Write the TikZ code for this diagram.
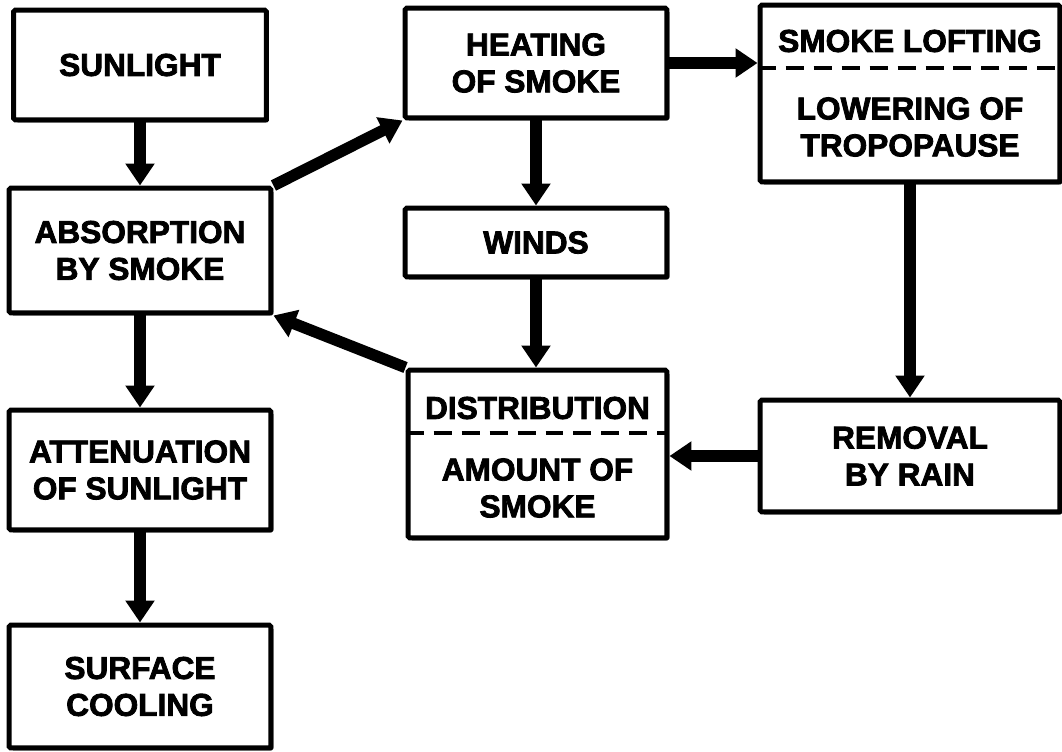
\documentclass[tikz,border=0pt]{standalone}
\usepackage{fontspec}
\setmainfont{Liberation Sans}[BoldFeatures={FakeBold=2.5}]
\usetikzlibrary{arrows.meta}
\usetikzlibrary{shadows}
\tikzset{box/.style={draw, line width=0.1cm, fill=white, rounded corners=1pt,
  drop shadow={shadow xshift=0.05cm, shadow yshift=-0.05cm, fill=black, opacity=1},
  font=\bfseries\fontsize{18}{21}\selectfont, align=center, inner sep=0pt}}
\tikzset{flow/.style={line width=0.23cm, -{Triangle[length=0.44cm, width=0.56cm]}}}
\tikzset{cut/.style={line width=0.08cm, dash pattern=on 0.36cm off 0.2cm}}
\tikzset{boxtext/.style={font=\bfseries\fontsize{18}{21}\selectfont, align=center}}

\begin{document}
\begin{tikzpicture}[x=0.02cm, y=-0.02cm]
      \useasboundingbox (0, 0) rectangle (1062, 751);

      % left column
      \node [box, minimum width=5.06cm, minimum height=2.2cm] (sun) at (140, 65) {SUNLIGHT};
      \node [box, minimum width=5.24cm, minimum height=2.5cm] (abs) at (140, 250.5) {ABSORPTION\\BY SMOKE};
      \node [box, minimum width=5.24cm, minimum height=2.4cm] (att) at (140, 470) {ATTENUATION\\OF SUNLIGHT};
      \node [box, minimum width=5.24cm, minimum height=2.46cm] (cool) at (140, 686.5) {SURFACE\\COOLING};

      % middle column
      \node [box, minimum width=5.24cm, minimum height=2.2cm] (heat) at (536, 63) {HEATING\\OF SMOKE};
      \node [box, minimum width=5.24cm, minimum height=1.38cm] (winds) at (536, 242.5) {WINDS};
      \node [box, minimum width=5.18cm, minimum height=3.36cm] (dist) at (537.5, 454) {};
      \node [boxtext] (distup) at (537.5, 408) {DISTRIBUTION};
      \node [boxtext] (distlow) at (537.5, 488) {AMOUNT OF\\SMOKE};
      \coordinate (distcut) at (537.5, 433);
      \draw [cut] (dist.west |- distcut) -- (dist.east |- distcut);

      % right column
      \node [box, minimum width=6cm, minimum height=3.54cm] (loft) at (910, 93.5) {};
      \node [boxtext] (loftup) at (910, 41) {SMOKE LOFTING};
      \node [boxtext] (loftlow) at (910, 127) {LOWERING OF\\TROPOPAUSE};
      \coordinate (loftcut) at (910, 68);
      \draw [cut] (loft.west |- loftcut) -- (loft.east |- loftcut);
      \node [box, minimum width=6cm, minimum height=2.24cm] (rem) at (910, 456) {REMOVAL\\BY RAIN};

      % arrows
      \draw [flow] (sun.south) -- (abs.north);
      \draw [flow] (abs.south) -- (att.north);
      \draw [flow] (att.south) -- (cool.north);
      \draw [flow] (abs.north east) -- (heat.south west);
      \draw [flow] (heat.east) -- (heat.east -| loft.west);
      \draw [flow] (heat.south) -- (winds.north);
      \draw [flow] (winds.south) -- (winds.south |- dist.north);
      \draw [flow] (loft.south) -- (rem.north);
      \draw [flow] (rem.west) -- (rem.west -| dist.east);
      \draw [flow] (dist.north west) -- (abs.south east);
    \end{tikzpicture}
\end{document}
